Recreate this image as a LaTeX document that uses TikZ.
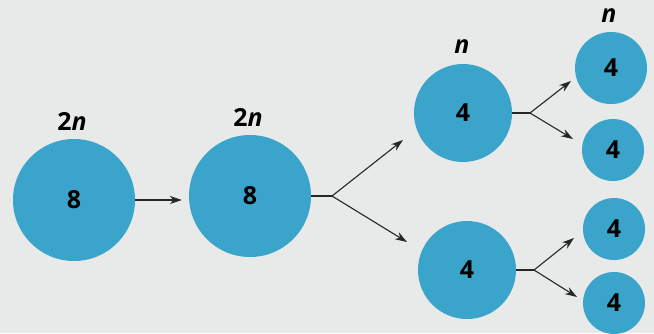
\documentclass[tikz,border=0pt]{standalone}
\usepackage{fontspec}
\setmainfont{Open Sans}
\usetikzlibrary{arrows.meta}
\definecolor{bgc}{RGB}{232,233,233}
\definecolor{cellc}{RGB}{58,164,202}
\begin{document}
\begin{tikzpicture}[x=1bp,y=-1bp,
  cell/.style={circle,fill=cellc,inner sep=0pt,font=\fontsize{25}{30}\selectfont\bfseries},
  lbl/.style={font=\fontsize{25}{30}\selectfont\bfseries,inner sep=0pt},
  arr/.style={draw=black!85,line width=1.1bp,-{Stealth[length=12bp,width=8bp]}},
  ln/.style={draw=black!85,line width=1.1bp}]
\fill[bgc] (0,0) rectangle (654,333);
\useasboundingbox (0,0) rectangle (654,333);
\node[cell,minimum size=122bp] (c1) at (74,200) {8};
\node[cell,minimum size=122bp] (c2) at (250,196) {8};
\node[cell,minimum size=98bp] (c3) at (463,113) {4};
\node[cell,minimum size=98bp] (c4) at (467,270) {4};
\node[cell,minimum size=72bp] (d1) at (611,68) {4};
\node[cell,minimum size=62bp] (d2) at (613,150) {4};
\node[cell,minimum size=62bp] (d3) at (614,229) {4};
\node[cell,minimum size=62bp] (d4) at (614,303) {4};
\node[lbl] (l1) at (72,121) {2\textit{n}};
\node[lbl] (l2) at (248,117) {2\textit{n}};
\node[lbl] (l3) at (462,47) {\textit{n}};
\node[lbl] (l4) at (609,16) {\textit{n}};
% c1 -> c2
\draw[arr,shorten >=7bp] (c1.east) -- (c1.east -| c2.west);
% fork from c2
\coordinate (f2) at (332,196);
\coordinate (e2a) at (403,140);
\coordinate (e2b) at (407,242);
\draw[ln] (c2.east) -- (f2);
\draw[arr] (f2) -- (e2a);
\draw[arr] (f2) -- (e2b);
% fork from c3
\coordinate (f3) at (530,113);
\coordinate (e3a) at (571,81);
\coordinate (e3b) at (573,139);
\draw[ln] (c3.east) -- (f3);
\draw[arr] (f3) -- (e3a);
\draw[arr] (f3) -- (e3b);
% fork from c4
\coordinate (f4) at (534,270);
\coordinate (e4a) at (574,238);
\coordinate (e4b) at (577,297);
\draw[ln] (c4.east) -- (f4);
\draw[arr] (f4) -- (e4a);
\draw[arr] (f4) -- (e4b);
\end{tikzpicture}
\end{document}
